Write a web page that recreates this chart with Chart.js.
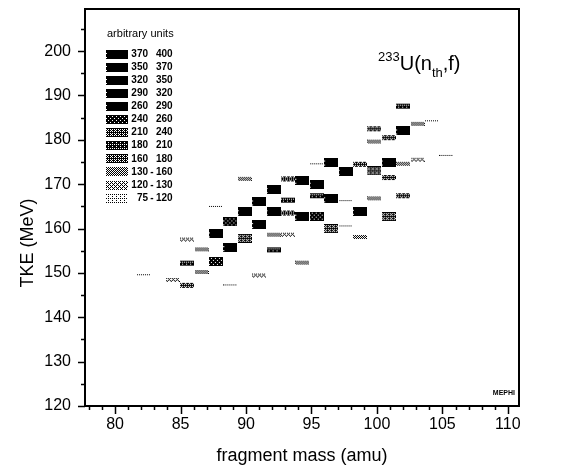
<!DOCTYPE html>
<html>
<head>
<meta charset="utf-8">
<script src="https://cdn.jsdelivr.net/npm/chart.js@4.4.0/dist/chart.umd.min.js"></script>
<style>
html, body { margin: 0; padding: 0; background: #fff; }
#wrap { width: 574px; height: 472px; }
</style>
</head>
<body>
<div id="wrap"><canvas id="chart" width="574" height="472"></canvas></div>
<script>
// 233U(nth,f): yield map over fragment mass and TKE (arbitrary units)

// cell centres
var cellMass = [82.2, 84.4, 85.5, 85.5, 85.5, 86.6, 86.6, 87.7, 87.7, 87.7,
                88.8, 88.8, 88.8, 89.9, 89.9, 89.9, 91.0, 91.0, 91.0, 92.1,
                92.1, 92.1, 92.1, 93.2, 93.2, 93.2, 93.2, 94.3, 94.3, 94.3,
                95.4, 95.4, 95.4, 96.5, 96.5, 96.5, 97.6, 98.7, 98.7, 98.7,
                99.8, 99.8, 99.8, 99.8, 100.9, 100.9, 100.9, 100.9, 102.0, 102.0,
                102.0, 102.0, 103.1, 103.1, 105.3, 104.2, 95.4, 97.6, 97.6];
var cellTke  = [149.6, 148.3, 157.4, 152.2, 147.2, 155.2, 150.1, 165.0, 158.8, 152.6,
                161.5, 155.7, 147.3, 171.1, 163.8, 157.8, 166.0, 160.9, 149.3, 168.8,
                163.8, 158.5, 155.2, 171.2, 166.4, 163.5, 158.5, 170.9, 162.8, 152.2,
                170.0, 167.4, 162.8, 175.0, 166.7, 160.0, 172.9, 174.5, 163.9, 158.0,
                182.5, 179.5, 173.0, 166.7, 180.5, 175.0, 171.5, 162.7, 187.6, 182.0,
                174.5, 167.4, 183.5, 175.4, 176.5, 184.3, 174.6, 166.3, 160.6];
var cellYield = [100, 125, 125, 195, 170, 145, 140, 90, 265, 245,
                 250, 310, 95, 150, 285, 225, 300, 340, 122, 330,
                 365, 140, 190, 175, 200, 165, 125, 360, 315, 135,
                 380, 205, 255, 345, 320, 220, 355, 170, 325, 140,
                 175, 150, 230, 155, 165, 295, 178, 215, 185, 270,
                 135, 172, 145, 128, 110, 80, 80, 78, 78];

// size of one cell
var binMass = 1.1;
var binTke = 2.1;

// legend ranges, top to bottom
var levelLow  = [370, 350, 320, 290, 260, 240, 210, 180, 160, 130, 120, 75];
var levelHigh = [400, 370, 350, 320, 290, 260, 240, 210, 180, 160, 130, 120];

var xTickValues = [80, 85, 90, 95, 100, 105, 110];
var yTickValues = [120, 130, 140, 150, 160, 170, 180, 190, 200];

// dither density and band height for each legend row
var shade = [
    [1, 1], [1, 1], [1, 1], [1, 1], [1, 1],
    [0.9, 1], [0.7, 0.95], [0.8, 0.55], [0.7, 0.5], [0.5, 0.45], [0.35, 0.4], [0.2, 0.35]
];
var bayer = [0, 8, 2, 10, 12, 4, 14, 6, 3, 11, 1, 9, 15, 7, 13, 5];

function levelOf(v) {
    for (var i = 0; i < levelLow.length; i++) {
        if (v >= levelLow[i]) return i;
    }
    return levelLow.length - 1;
}

function makeCell(level, w, h, full) {
    var c = document.createElement('canvas');
    c.width = w;
    c.height = h;
    var g = c.getContext('2d');
    var img = g.createImageData(w, h);
    var dens = shade[level][0];
    var bh = Math.max(2, Math.round(h * (full ? 1 : shade[level][1])));
    var y0 = Math.floor((h - bh) / 2);
    for (var y = y0; y < y0 + bh; y++) {
        for (var x = 0; x < w; x++) {
            var d = dens;
            var edge = x === 0 || x === w - 1 || y === y0 || y === y0 + bh - 1;
            if (dens >= 1 && edge) d = 0.8;
            if ((bayer[(y % 4) * 4 + (x % 4)] + 0.5) / 16 < d) {
                var p = (y * w + x) * 4;
                img.data[p + 3] = 255;
            }
        }
    }
    g.putImageData(img, 0, 0);
    return c;
}

var cellImg = [];
var legendImg = [];
for (var i = 0; i < levelLow.length; i++) legendImg.push(makeCell(i, 22, 9, true));

// lighter cells first so the dark ones sit on top
var order = cellYield.map(function (v, i) { return i; });
order.sort(function (a, b) { return cellYield[a] - cellYield[b]; });
var points = order.map(function (i) {
    return {x: cellMass[i], y: cellTke[i], v: cellYield[i]};
});

var font = '"Liberation Sans", Arial, sans-serif';

var cellsPlugin = {
    id: 'cells',
    afterLayout: function (chart) {
        var xs = chart.scales.x, ys = chart.scales.y;
        var w = Math.round(xs.getPixelForValue(binMass) - xs.getPixelForValue(0));
        var h = Math.round(ys.getPixelForValue(0) - ys.getPixelForValue(binTke));
        cellImg = [];
        for (var i = 0; i < levelLow.length; i++) cellImg.push(makeCell(i, w, h, false));
    }
};

var framePlugin = {
    id: 'frame',
    afterDraw: function (chart) {
        var ctx = chart.ctx;
        var a = chart.chartArea;
        var xs = chart.scales.x, ys = chart.scales.y;
        ctx.save();
        ctx.strokeStyle = '#000';
        ctx.fillStyle = '#000';

        // box
        ctx.lineWidth = 2;
        ctx.strokeRect(a.left, a.top, a.right - a.left, a.bottom - a.top);

        // tick marks
        ctx.lineWidth = 1.5;
        ctx.beginPath();
        for (var m = 78; m <= 110; m++) {
            var px = Math.round(xs.getPixelForValue(m)) + 0.5;
            var len = m % 5 === 0 ? 8 : 4;
            ctx.moveTo(px, a.bottom);
            ctx.lineTo(px, a.bottom + len);
        }
        for (var e = 120; e <= 205; e += 5) {
            var py = Math.round(ys.getPixelForValue(e)) + 0.5;
            var l2 = e % 10 === 0 ? 7 : 4;
            ctx.moveTo(a.left, py);
            ctx.lineTo(a.left - l2, py);
        }
        ctx.stroke();

        // y title
        ctx.save();
        ctx.translate(28, 243);
        ctx.rotate(-Math.PI / 2);
        ctx.textAlign = 'center';
        ctx.textBaseline = 'middle';
        ctx.font = '18px ' + font;
        ctx.fillText('TKE (MeV)', 0, 0);
        ctx.restore();

        // reaction label
        ctx.textAlign = 'left';
        ctx.textBaseline = 'alphabetic';
        var tx = 378;
        ctx.font = '13px ' + font;
        ctx.fillText('233', tx, 61);
        tx += ctx.measureText('233').width;
        ctx.font = '20px ' + font;
        ctx.fillText('U(n', tx, 70);
        tx += ctx.measureText('U(n').width;
        ctx.font = '13px ' + font;
        ctx.fillText('th', tx, 77);
        tx += ctx.measureText('th').width;
        ctx.font = '20px ' + font;
        ctx.fillText(',f)', tx, 70);

        // legend
        ctx.font = '11px ' + font;
        ctx.fillText('arbitrary units', 107, 37);
        ctx.font = 'bold 10px ' + font;
        for (var i = 0; i < levelLow.length; i++) {
            var ry = 54 + i * 13.1;
            ctx.drawImage(legendImg[i], 106, Math.round(ry - 4.5));
            ctx.textBaseline = 'middle';
            ctx.textAlign = 'right';
            ctx.fillText(String(levelLow[i]), 148, ry);
            if (i >= 9) {
                ctx.textAlign = 'center';
                ctx.fillText('-', 152, ry);
            }
            ctx.textAlign = 'left';
            ctx.fillText(String(levelHigh[i]), 156, ry);
        }

        ctx.font = 'bold 7px ' + font;
        ctx.textAlign = 'right';
        ctx.textBaseline = 'middle';
        ctx.fillText('MEPHI', a.right - 4, 393);
        ctx.restore();
    }
};

new Chart(document.getElementById('chart'), {
    type: 'scatter',
    data: {
        datasets: [{
            data: points,
            pointRadius: 1,
            pointStyle: function (c) {
                if (!c.raw || !cellImg.length) return 'rect';
                return cellImg[levelOf(c.raw.v)];
            }
        }]
    },
    options: {
        responsive: false,
        animation: false,
        events: [],
        layout: {padding: {top: 9, right: 55, left: 0, bottom: 0}},
        plugins: {legend: {display: false}, tooltip: {enabled: false}},
        scales: {
            x: {
                type: 'linear',
                min: 77.7,
                max: 110.85,
                afterFit: function (s) {
                    s.height = 66;
                    s.paddingLeft = 0;
                    s.paddingRight = 0;
                },
                afterBuildTicks: function (s) {
                    s.ticks = xTickValues.map(function (v) { return {value: v}; });
                },
                grid: {display: false, drawTicks: false},
                border: {display: false},
                ticks: {color: '#000', padding: 9, font: {family: font, size: 16}},
                title: {display: true, text: 'fragment mass (amu)', color: '#000',
                        padding: {top: 0, bottom: 5}, font: {family: font, size: 18}}
            },
            y: {
                type: 'linear',
                min: 120,
                max: 209.5,
                afterFit: function (s) {
                    s.width = 85;
                    s.paddingTop = 0;
                    s.paddingBottom = 0;
                },
                afterBuildTicks: function (s) {
                    s.ticks = yTickValues.map(function (v) { return {value: v}; });
                },
                grid: {display: false, drawTicks: false},
                border: {display: false},
                ticks: {color: '#000', padding: 14, font: {family: font, size: 16}}
            }
        }
    },
    plugins: [cellsPlugin, framePlugin]
});
</script>
</body>
</html>
